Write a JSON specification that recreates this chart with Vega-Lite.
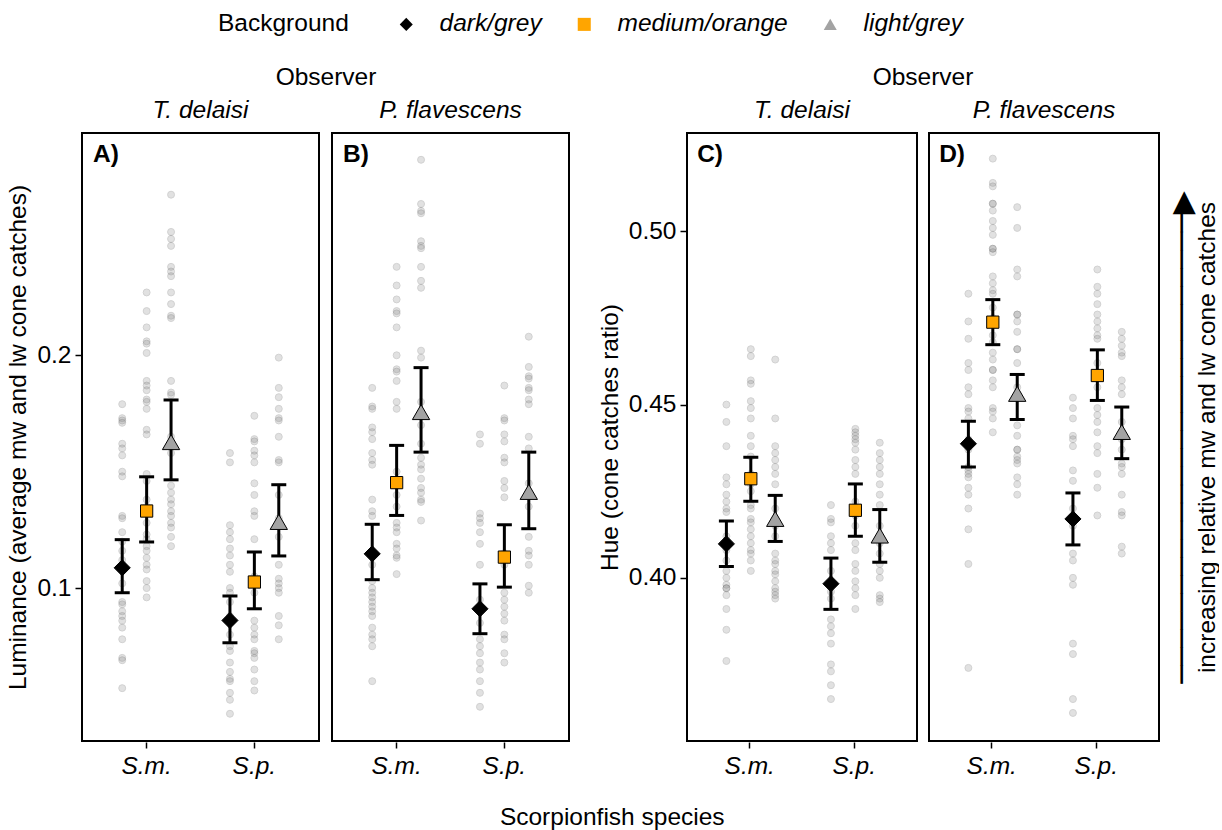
{
"$schema":"https://vega.github.io/schema/vega-lite/v6.json",
"padding":{"left":5,"right":0,"top":12,"bottom":8},
"title":{"text":"Scorpionfish species","orient":"bottom","anchor":"middle","fontSize":24.5,"fontWeight":"normal","color":"black","offset":28},
"datasets":{
"lum":[
{"o":"T","s":"m","lab":"A)"},{"o":"P","s":"m","lab":"B)"},
{"o":"T","s":"m","b":"d","mn":0.1087,"lo":0.098,"hi":0.1208},
{"o":"T","s":"m","b":"m","mn":0.1331,"lo":0.1198,"hi":0.1478},
{"o":"T","s":"m","b":"l","mn":0.1627,"lo":0.1465,"hi":0.1808},
{"o":"T","s":"p","b":"d","mn":0.0861,"lo":0.0765,"hi":0.0966},
{"o":"T","s":"p","b":"m","mn":0.1026,"lo":0.0911,"hi":0.1155},
{"o":"T","s":"p","b":"l","mn":0.1284,"lo":0.1138,"hi":0.1444},
{"o":"P","s":"m","b":"d","mn":0.1147,"lo":0.1036,"hi":0.1274},
{"o":"P","s":"m","b":"m","mn":0.1453,"lo":0.1312,"hi":0.1613},
{"o":"P","s":"m","b":"l","mn":0.1756,"lo":0.1584,"hi":0.1947},
{"o":"P","s":"p","b":"d","mn":0.0911,"lo":0.0804,"hi":0.1018},
{"o":"P","s":"p","b":"m","mn":0.1133,"lo":0.1004,"hi":0.1272},
{"o":"P","s":"p","b":"l","mn":0.1413,"lo":0.1255,"hi":0.1584},
{"o":"T","s":"m","b":"d","v":0.179},{"o":"T","s":"m","b":"d","v":0.173},{"o":"T","s":"m","b":"d","v":0.172},{"o":"T","s":"m","b":"d","v":0.171},{"o":"T","s":"m","b":"d","v":0.162},{"o":"T","s":"m","b":"d","v":0.160},{"o":"T","s":"m","b":"d","v":0.157},{"o":"T","s":"m","b":"d","v":0.150},{"o":"T","s":"m","b":"d","v":0.148},{"o":"T","s":"m","b":"d","v":0.131},{"o":"T","s":"m","b":"d","v":0.130},{"o":"T","s":"m","b":"d","v":0.124},{"o":"T","s":"m","b":"d","v":0.120},{"o":"T","s":"m","b":"d","v":0.116},{"o":"T","s":"m","b":"d","v":0.112},{"o":"T","s":"m","b":"d","v":0.108},{"o":"T","s":"m","b":"d","v":0.102},{"o":"T","s":"m","b":"d","v":0.094},{"o":"T","s":"m","b":"d","v":0.093},{"o":"T","s":"m","b":"d","v":0.090},{"o":"T","s":"m","b":"d","v":0.088},{"o":"T","s":"m","b":"d","v":0.086},{"o":"T","s":"m","b":"d","v":0.083},{"o":"T","s":"m","b":"d","v":0.078},{"o":"T","s":"m","b":"d","v":0.070},{"o":"T","s":"m","b":"d","v":0.069},{"o":"T","s":"m","b":"d","v":0.057},
{"o":"T","s":"m","b":"m","v":0.227},{"o":"T","s":"m","b":"m","v":0.219},{"o":"T","s":"m","b":"m","v":0.212},{"o":"T","s":"m","b":"m","v":0.206},{"o":"T","s":"m","b":"m","v":0.205},{"o":"T","s":"m","b":"m","v":0.201},{"o":"T","s":"m","b":"m","v":0.189},{"o":"T","s":"m","b":"m","v":0.187},{"o":"T","s":"m","b":"m","v":0.185},{"o":"T","s":"m","b":"m","v":0.181},{"o":"T","s":"m","b":"m","v":0.180},{"o":"T","s":"m","b":"m","v":0.177},{"o":"T","s":"m","b":"m","v":0.168},{"o":"T","s":"m","b":"m","v":0.166},{"o":"T","s":"m","b":"m","v":0.149},{"o":"T","s":"m","b":"m","v":0.146},{"o":"T","s":"m","b":"m","v":0.138},{"o":"T","s":"m","b":"m","v":0.135},{"o":"T","s":"m","b":"m","v":0.128},{"o":"T","s":"m","b":"m","v":0.123},{"o":"T","s":"m","b":"m","v":0.121},{"o":"T","s":"m","b":"m","v":0.118},{"o":"T","s":"m","b":"m","v":0.116},{"o":"T","s":"m","b":"m","v":0.113},{"o":"T","s":"m","b":"m","v":0.110},{"o":"T","s":"m","b":"m","v":0.108},{"o":"T","s":"m","b":"m","v":0.103},{"o":"T","s":"m","b":"m","v":0.100},{"o":"T","s":"m","b":"m","v":0.096},
{"o":"T","s":"m","b":"l","v":0.269},{"o":"T","s":"m","b":"l","v":0.253},{"o":"T","s":"m","b":"l","v":0.250},{"o":"T","s":"m","b":"l","v":0.247},{"o":"T","s":"m","b":"l","v":0.238},{"o":"T","s":"m","b":"l","v":0.236},{"o":"T","s":"m","b":"l","v":0.234},{"o":"T","s":"m","b":"l","v":0.227},{"o":"T","s":"m","b":"l","v":0.222},{"o":"T","s":"m","b":"l","v":0.217},{"o":"T","s":"m","b":"l","v":0.216},{"o":"T","s":"m","b":"l","v":0.189},{"o":"T","s":"m","b":"l","v":0.184},{"o":"T","s":"m","b":"l","v":0.183},{"o":"T","s":"m","b":"l","v":0.165},{"o":"T","s":"m","b":"l","v":0.158},{"o":"T","s":"m","b":"l","v":0.144},{"o":"T","s":"m","b":"l","v":0.141},{"o":"T","s":"m","b":"l","v":0.138},{"o":"T","s":"m","b":"l","v":0.136},{"o":"T","s":"m","b":"l","v":0.133},{"o":"T","s":"m","b":"l","v":0.131},{"o":"T","s":"m","b":"l","v":0.128},{"o":"T","s":"m","b":"l","v":0.126},{"o":"T","s":"m","b":"l","v":0.122},{"o":"T","s":"m","b":"l","v":0.118},
{"o":"T","s":"p","b":"d","v":0.158},{"o":"T","s":"p","b":"d","v":0.154},{"o":"T","s":"p","b":"d","v":0.127},{"o":"T","s":"p","b":"d","v":0.124},{"o":"T","s":"p","b":"d","v":0.121},{"o":"T","s":"p","b":"d","v":0.117},{"o":"T","s":"p","b":"d","v":0.114},{"o":"T","s":"p","b":"d","v":0.110},{"o":"T","s":"p","b":"d","v":0.107},{"o":"T","s":"p","b":"d","v":0.100},{"o":"T","s":"p","b":"d","v":0.098},{"o":"T","s":"p","b":"d","v":0.094},{"o":"T","s":"p","b":"d","v":0.088},{"o":"T","s":"p","b":"d","v":0.085},{"o":"T","s":"p","b":"d","v":0.080},{"o":"T","s":"p","b":"d","v":0.075},{"o":"T","s":"p","b":"d","v":0.073},{"o":"T","s":"p","b":"d","v":0.068},{"o":"T","s":"p","b":"d","v":0.064},{"o":"T","s":"p","b":"d","v":0.061},{"o":"T","s":"p","b":"d","v":0.060},{"o":"T","s":"p","b":"d","v":0.055},{"o":"T","s":"p","b":"d","v":0.052},{"o":"T","s":"p","b":"d","v":0.046},
{"o":"T","s":"p","b":"m","v":0.174},{"o":"T","s":"p","b":"m","v":0.164},{"o":"T","s":"p","b":"m","v":0.163},{"o":"T","s":"p","b":"m","v":0.159},{"o":"T","s":"p","b":"m","v":0.157},{"o":"T","s":"p","b":"m","v":0.154},{"o":"T","s":"p","b":"m","v":0.145},{"o":"T","s":"p","b":"m","v":0.140},{"o":"T","s":"p","b":"m","v":0.133},{"o":"T","s":"p","b":"m","v":0.131},{"o":"T","s":"p","b":"m","v":0.121},{"o":"T","s":"p","b":"m","v":0.105},{"o":"T","s":"p","b":"m","v":0.098},{"o":"T","s":"p","b":"m","v":0.086},{"o":"T","s":"p","b":"m","v":0.083},{"o":"T","s":"p","b":"m","v":0.080},{"o":"T","s":"p","b":"m","v":0.078},{"o":"T","s":"p","b":"m","v":0.073},{"o":"T","s":"p","b":"m","v":0.072},{"o":"T","s":"p","b":"m","v":0.070},{"o":"T","s":"p","b":"m","v":0.065},{"o":"T","s":"p","b":"m","v":0.060},{"o":"T","s":"p","b":"m","v":0.056},
{"o":"T","s":"p","b":"l","v":0.199},{"o":"T","s":"p","b":"l","v":0.186},{"o":"T","s":"p","b":"l","v":0.182},{"o":"T","s":"p","b":"l","v":0.177},{"o":"T","s":"p","b":"l","v":0.173},{"o":"T","s":"p","b":"l","v":0.172},{"o":"T","s":"p","b":"l","v":0.165},{"o":"T","s":"p","b":"l","v":0.155},{"o":"T","s":"p","b":"l","v":0.154},{"o":"T","s":"p","b":"l","v":0.140},{"o":"T","s":"p","b":"l","v":0.130},{"o":"T","s":"p","b":"l","v":0.122},{"o":"T","s":"p","b":"l","v":0.110},{"o":"T","s":"p","b":"l","v":0.104},{"o":"T","s":"p","b":"l","v":0.102},{"o":"T","s":"p","b":"l","v":0.100},{"o":"T","s":"p","b":"l","v":0.098},{"o":"T","s":"p","b":"l","v":0.088},{"o":"T","s":"p","b":"l","v":0.084},{"o":"T","s":"p","b":"l","v":0.078},
{"o":"P","s":"m","b":"d","v":0.186},{"o":"P","s":"m","b":"d","v":0.178},{"o":"P","s":"m","b":"d","v":0.177},{"o":"P","s":"m","b":"d","v":0.169},{"o":"P","s":"m","b":"d","v":0.167},{"o":"P","s":"m","b":"d","v":0.164},{"o":"P","s":"m","b":"d","v":0.158},{"o":"P","s":"m","b":"d","v":0.155},{"o":"P","s":"m","b":"d","v":0.153},{"o":"P","s":"m","b":"d","v":0.138},{"o":"P","s":"m","b":"d","v":0.133},{"o":"P","s":"m","b":"d","v":0.131},{"o":"P","s":"m","b":"d","v":0.115},{"o":"P","s":"m","b":"d","v":0.110},{"o":"P","s":"m","b":"d","v":0.103},{"o":"P","s":"m","b":"d","v":0.100},{"o":"P","s":"m","b":"d","v":0.098},{"o":"P","s":"m","b":"d","v":0.096},{"o":"P","s":"m","b":"d","v":0.094},{"o":"P","s":"m","b":"d","v":0.092},{"o":"P","s":"m","b":"d","v":0.090},{"o":"P","s":"m","b":"d","v":0.088},{"o":"P","s":"m","b":"d","v":0.083},{"o":"P","s":"m","b":"d","v":0.080},{"o":"P","s":"m","b":"d","v":0.078},{"o":"P","s":"m","b":"d","v":0.075},{"o":"P","s":"m","b":"d","v":0.060},
{"o":"P","s":"m","b":"m","v":0.238},{"o":"P","s":"m","b":"m","v":0.230},{"o":"P","s":"m","b":"m","v":0.224},{"o":"P","s":"m","b":"m","v":0.219},{"o":"P","s":"m","b":"m","v":0.218},{"o":"P","s":"m","b":"m","v":0.212},{"o":"P","s":"m","b":"m","v":0.200},{"o":"P","s":"m","b":"m","v":0.194},{"o":"P","s":"m","b":"m","v":0.193},{"o":"P","s":"m","b":"m","v":0.189},{"o":"P","s":"m","b":"m","v":0.180},{"o":"P","s":"m","b":"m","v":0.177},{"o":"P","s":"m","b":"m","v":0.150},{"o":"P","s":"m","b":"m","v":0.140},{"o":"P","s":"m","b":"m","v":0.135},{"o":"P","s":"m","b":"m","v":0.128},{"o":"P","s":"m","b":"m","v":0.126},{"o":"P","s":"m","b":"m","v":0.124},{"o":"P","s":"m","b":"m","v":0.119},{"o":"P","s":"m","b":"m","v":0.117},{"o":"P","s":"m","b":"m","v":0.114},{"o":"P","s":"m","b":"m","v":0.113},{"o":"P","s":"m","b":"m","v":0.106},
{"o":"P","s":"m","b":"l","v":0.284},{"o":"P","s":"m","b":"l","v":0.265},{"o":"P","s":"m","b":"l","v":0.262},{"o":"P","s":"m","b":"l","v":0.261},{"o":"P","s":"m","b":"l","v":0.249},{"o":"P","s":"m","b":"l","v":0.247},{"o":"P","s":"m","b":"l","v":0.246},{"o":"P","s":"m","b":"l","v":0.238},{"o":"P","s":"m","b":"l","v":0.232},{"o":"P","s":"m","b":"l","v":0.229},{"o":"P","s":"m","b":"l","v":0.202},{"o":"P","s":"m","b":"l","v":0.199},{"o":"P","s":"m","b":"l","v":0.180},{"o":"P","s":"m","b":"l","v":0.170},{"o":"P","s":"m","b":"l","v":0.162},{"o":"P","s":"m","b":"l","v":0.156},{"o":"P","s":"m","b":"l","v":0.153},{"o":"P","s":"m","b":"l","v":0.151},{"o":"P","s":"m","b":"l","v":0.147},{"o":"P","s":"m","b":"l","v":0.143},{"o":"P","s":"m","b":"l","v":0.141},{"o":"P","s":"m","b":"l","v":0.138},{"o":"P","s":"m","b":"l","v":0.137},{"o":"P","s":"m","b":"l","v":0.129},
{"o":"P","s":"p","b":"d","v":0.166},{"o":"P","s":"p","b":"d","v":0.162},{"o":"P","s":"p","b":"d","v":0.132},{"o":"P","s":"p","b":"d","v":0.130},{"o":"P","s":"p","b":"d","v":0.128},{"o":"P","s":"p","b":"d","v":0.124},{"o":"P","s":"p","b":"d","v":0.119},{"o":"P","s":"p","b":"d","v":0.110},{"o":"P","s":"p","b":"d","v":0.095},{"o":"P","s":"p","b":"d","v":0.090},{"o":"P","s":"p","b":"d","v":0.085},{"o":"P","s":"p","b":"d","v":0.078},{"o":"P","s":"p","b":"d","v":0.075},{"o":"P","s":"p","b":"d","v":0.072},{"o":"P","s":"p","b":"d","v":0.068},{"o":"P","s":"p","b":"d","v":0.065},{"o":"P","s":"p","b":"d","v":0.060},{"o":"P","s":"p","b":"d","v":0.055},{"o":"P","s":"p","b":"d","v":0.049},
{"o":"P","s":"p","b":"m","v":0.187},{"o":"P","s":"p","b":"m","v":0.173},{"o":"P","s":"p","b":"m","v":0.172},{"o":"P","s":"p","b":"m","v":0.166},{"o":"P","s":"p","b":"m","v":0.163},{"o":"P","s":"p","b":"m","v":0.156},{"o":"P","s":"p","b":"m","v":0.154},{"o":"P","s":"p","b":"m","v":0.146},{"o":"P","s":"p","b":"m","v":0.143},{"o":"P","s":"p","b":"m","v":0.139},{"o":"P","s":"p","b":"m","v":0.115},{"o":"P","s":"p","b":"m","v":0.110},{"o":"P","s":"p","b":"m","v":0.098},{"o":"P","s":"p","b":"m","v":0.095},{"o":"P","s":"p","b":"m","v":0.092},{"o":"P","s":"p","b":"m","v":0.089},{"o":"P","s":"p","b":"m","v":0.086},{"o":"P","s":"p","b":"m","v":0.080},{"o":"P","s":"p","b":"m","v":0.078},{"o":"P","s":"p","b":"m","v":0.072},{"o":"P","s":"p","b":"m","v":0.068},
{"o":"P","s":"p","b":"l","v":0.208},{"o":"P","s":"p","b":"l","v":0.195},{"o":"P","s":"p","b":"l","v":0.191},{"o":"P","s":"p","b":"l","v":0.190},{"o":"P","s":"p","b":"l","v":0.186},{"o":"P","s":"p","b":"l","v":0.185},{"o":"P","s":"p","b":"l","v":0.181},{"o":"P","s":"p","b":"l","v":0.179},{"o":"P","s":"p","b":"l","v":0.165},{"o":"P","s":"p","b":"l","v":0.160},{"o":"P","s":"p","b":"l","v":0.145},{"o":"P","s":"p","b":"l","v":0.135},{"o":"P","s":"p","b":"l","v":0.122},{"o":"P","s":"p","b":"l","v":0.116},{"o":"P","s":"p","b":"l","v":0.114},{"o":"P","s":"p","b":"l","v":0.110},{"o":"P","s":"p","b":"l","v":0.101},{"o":"P","s":"p","b":"l","v":0.098}
],
"hue":[
{"o":"T","s":"m","lab":"C)"},{"o":"P","s":"m","lab":"D)"},
{"o":"T","s":"m","b":"d","mn":0.4098,"lo":0.4033,"hi":0.4164},
{"o":"T","s":"m","b":"m","mn":0.4286,"lo":0.4221,"hi":0.4348},
{"o":"T","s":"m","b":"l","mn":0.4170,"lo":0.4105,"hi":0.4238},
{"o":"T","s":"p","b":"d","mn":0.3983,"lo":0.3909,"hi":0.4057},
{"o":"T","s":"p","b":"m","mn":0.4195,"lo":0.4120,"hi":0.4271},
{"o":"T","s":"p","b":"l","mn":0.4122,"lo":0.4045,"hi":0.4197},
{"o":"P","s":"m","b":"d","mn":0.4387,"lo":0.4320,"hi":0.4452},
{"o":"P","s":"m","b":"m","mn":0.4738,"lo":0.4673,"hi":0.4803},
{"o":"P","s":"m","b":"l","mn":0.4531,"lo":0.4457,"hi":0.4587},
{"o":"P","s":"p","b":"d","mn":0.4170,"lo":0.4095,"hi":0.4245},
{"o":"P","s":"p","b":"m","mn":0.4584,"lo":0.4512,"hi":0.4658},
{"o":"P","s":"p","b":"l","mn":0.4421,"lo":0.4344,"hi":0.4493},
{"o":"T","s":"m","b":"d","v":0.450},{"o":"T","s":"m","b":"d","v":0.445},{"o":"T","s":"m","b":"d","v":0.438},{"o":"T","s":"m","b":"d","v":0.429},{"o":"T","s":"m","b":"d","v":0.427},{"o":"T","s":"m","b":"d","v":0.424},{"o":"T","s":"m","b":"d","v":0.422},{"o":"T","s":"m","b":"d","v":0.420},{"o":"T","s":"m","b":"d","v":0.419},{"o":"T","s":"m","b":"d","v":0.412},{"o":"T","s":"m","b":"d","v":0.408},{"o":"T","s":"m","b":"d","v":0.405},{"o":"T","s":"m","b":"d","v":0.402},{"o":"T","s":"m","b":"d","v":0.400},{"o":"T","s":"m","b":"d","v":0.398},{"o":"T","s":"m","b":"d","v":0.397},{"o":"T","s":"m","b":"d","v":0.397},{"o":"T","s":"m","b":"d","v":0.395},{"o":"T","s":"m","b":"d","v":0.391},{"o":"T","s":"m","b":"d","v":0.385},{"o":"T","s":"m","b":"d","v":0.376},
{"o":"T","s":"m","b":"m","v":0.466},{"o":"T","s":"m","b":"m","v":0.464},{"o":"T","s":"m","b":"m","v":0.457},{"o":"T","s":"m","b":"m","v":0.456},{"o":"T","s":"m","b":"m","v":0.451},{"o":"T","s":"m","b":"m","v":0.449},{"o":"T","s":"m","b":"m","v":0.446},{"o":"T","s":"m","b":"m","v":0.441},{"o":"T","s":"m","b":"m","v":0.438},{"o":"T","s":"m","b":"m","v":0.435},{"o":"T","s":"m","b":"m","v":0.430},{"o":"T","s":"m","b":"m","v":0.427},{"o":"T","s":"m","b":"m","v":0.425},{"o":"T","s":"m","b":"m","v":0.421},{"o":"T","s":"m","b":"m","v":0.420},{"o":"T","s":"m","b":"m","v":0.417},{"o":"T","s":"m","b":"m","v":0.416},{"o":"T","s":"m","b":"m","v":0.414},{"o":"T","s":"m","b":"m","v":0.412},{"o":"T","s":"m","b":"m","v":0.410},{"o":"T","s":"m","b":"m","v":0.408},{"o":"T","s":"m","b":"m","v":0.407},{"o":"T","s":"m","b":"m","v":0.405},{"o":"T","s":"m","b":"m","v":0.402},
{"o":"T","s":"m","b":"l","v":0.463},{"o":"T","s":"m","b":"l","v":0.446},{"o":"T","s":"m","b":"l","v":0.438},{"o":"T","s":"m","b":"l","v":0.436},{"o":"T","s":"m","b":"l","v":0.434},{"o":"T","s":"m","b":"l","v":0.432},{"o":"T","s":"m","b":"l","v":0.430},{"o":"T","s":"m","b":"l","v":0.427},{"o":"T","s":"m","b":"l","v":0.420},{"o":"T","s":"m","b":"l","v":0.415},{"o":"T","s":"m","b":"l","v":0.412},{"o":"T","s":"m","b":"l","v":0.407},{"o":"T","s":"m","b":"l","v":0.405},{"o":"T","s":"m","b":"l","v":0.404},{"o":"T","s":"m","b":"l","v":0.402},{"o":"T","s":"m","b":"l","v":0.401},{"o":"T","s":"m","b":"l","v":0.399},{"o":"T","s":"m","b":"l","v":0.397},{"o":"T","s":"m","b":"l","v":0.396},{"o":"T","s":"m","b":"l","v":0.395},{"o":"T","s":"m","b":"l","v":0.394},
{"o":"T","s":"p","b":"d","v":0.421},{"o":"T","s":"p","b":"d","v":0.417},{"o":"T","s":"p","b":"d","v":0.416},{"o":"T","s":"p","b":"d","v":0.412},{"o":"T","s":"p","b":"d","v":0.410},{"o":"T","s":"p","b":"d","v":0.408},{"o":"T","s":"p","b":"d","v":0.402},{"o":"T","s":"p","b":"d","v":0.396},{"o":"T","s":"p","b":"d","v":0.394},{"o":"T","s":"p","b":"d","v":0.388},{"o":"T","s":"p","b":"d","v":0.386},{"o":"T","s":"p","b":"d","v":0.384},{"o":"T","s":"p","b":"d","v":0.381},{"o":"T","s":"p","b":"d","v":0.375},{"o":"T","s":"p","b":"d","v":0.373},{"o":"T","s":"p","b":"d","v":0.369},{"o":"T","s":"p","b":"d","v":0.365},
{"o":"T","s":"p","b":"m","v":0.443},{"o":"T","s":"p","b":"m","v":0.442},{"o":"T","s":"p","b":"m","v":0.441},{"o":"T","s":"p","b":"m","v":0.440},{"o":"T","s":"p","b":"m","v":0.439},{"o":"T","s":"p","b":"m","v":0.437},{"o":"T","s":"p","b":"m","v":0.434},{"o":"T","s":"p","b":"m","v":0.432},{"o":"T","s":"p","b":"m","v":0.430},{"o":"T","s":"p","b":"m","v":0.422},{"o":"T","s":"p","b":"m","v":0.418},{"o":"T","s":"p","b":"m","v":0.415},{"o":"T","s":"p","b":"m","v":0.410},{"o":"T","s":"p","b":"m","v":0.408},{"o":"T","s":"p","b":"m","v":0.404},{"o":"T","s":"p","b":"m","v":0.402},{"o":"T","s":"p","b":"m","v":0.399},{"o":"T","s":"p","b":"m","v":0.397},{"o":"T","s":"p","b":"m","v":0.395},{"o":"T","s":"p","b":"m","v":0.391},
{"o":"T","s":"p","b":"l","v":0.439},{"o":"T","s":"p","b":"l","v":0.436},{"o":"T","s":"p","b":"l","v":0.434},{"o":"T","s":"p","b":"l","v":0.432},{"o":"T","s":"p","b":"l","v":0.430},{"o":"T","s":"p","b":"l","v":0.427},{"o":"T","s":"p","b":"l","v":0.424},{"o":"T","s":"p","b":"l","v":0.421},{"o":"T","s":"p","b":"l","v":0.415},{"o":"T","s":"p","b":"l","v":0.410},{"o":"T","s":"p","b":"l","v":0.407},{"o":"T","s":"p","b":"l","v":0.404},{"o":"T","s":"p","b":"l","v":0.402},{"o":"T","s":"p","b":"l","v":0.400},{"o":"T","s":"p","b":"l","v":0.395},{"o":"T","s":"p","b":"l","v":0.394},{"o":"T","s":"p","b":"l","v":0.393},
{"o":"P","s":"m","b":"d","v":0.482},{"o":"P","s":"m","b":"d","v":0.474},{"o":"P","s":"m","b":"d","v":0.469},{"o":"P","s":"m","b":"d","v":0.462},{"o":"P","s":"m","b":"d","v":0.460},{"o":"P","s":"m","b":"d","v":0.455},{"o":"P","s":"m","b":"d","v":0.453},{"o":"P","s":"m","b":"d","v":0.449},{"o":"P","s":"m","b":"d","v":0.448},{"o":"P","s":"m","b":"d","v":0.446},{"o":"P","s":"m","b":"d","v":0.440},{"o":"P","s":"m","b":"d","v":0.437},{"o":"P","s":"m","b":"d","v":0.432},{"o":"P","s":"m","b":"d","v":0.431},{"o":"P","s":"m","b":"d","v":0.430},{"o":"P","s":"m","b":"d","v":0.429},{"o":"P","s":"m","b":"d","v":0.426},{"o":"P","s":"m","b":"d","v":0.424},{"o":"P","s":"m","b":"d","v":0.420},{"o":"P","s":"m","b":"d","v":0.414},{"o":"P","s":"m","b":"d","v":0.404},{"o":"P","s":"m","b":"d","v":0.374},
{"o":"P","s":"m","b":"m","v":0.521},{"o":"P","s":"m","b":"m","v":0.514},{"o":"P","s":"m","b":"m","v":0.513},{"o":"P","s":"m","b":"m","v":0.508},{"o":"P","s":"m","b":"m","v":0.508},{"o":"P","s":"m","b":"m","v":0.506},{"o":"P","s":"m","b":"m","v":0.503},{"o":"P","s":"m","b":"m","v":0.501},{"o":"P","s":"m","b":"m","v":0.499},{"o":"P","s":"m","b":"m","v":0.495},{"o":"P","s":"m","b":"m","v":0.495},{"o":"P","s":"m","b":"m","v":0.494},{"o":"P","s":"m","b":"m","v":0.487},{"o":"P","s":"m","b":"m","v":0.485},{"o":"P","s":"m","b":"m","v":0.483},{"o":"P","s":"m","b":"m","v":0.482},{"o":"P","s":"m","b":"m","v":0.478},{"o":"P","s":"m","b":"m","v":0.475},{"o":"P","s":"m","b":"m","v":0.470},{"o":"P","s":"m","b":"m","v":0.468},{"o":"P","s":"m","b":"m","v":0.465},{"o":"P","s":"m","b":"m","v":0.463},{"o":"P","s":"m","b":"m","v":0.460},{"o":"P","s":"m","b":"m","v":0.460},{"o":"P","s":"m","b":"m","v":0.457},{"o":"P","s":"m","b":"m","v":0.455},{"o":"P","s":"m","b":"m","v":0.449},{"o":"P","s":"m","b":"m","v":0.448},{"o":"P","s":"m","b":"m","v":0.446},{"o":"P","s":"m","b":"m","v":0.442},
{"o":"P","s":"m","b":"l","v":0.507},{"o":"P","s":"m","b":"l","v":0.501},{"o":"P","s":"m","b":"l","v":0.489},{"o":"P","s":"m","b":"l","v":0.487},{"o":"P","s":"m","b":"l","v":0.476},{"o":"P","s":"m","b":"l","v":0.476},{"o":"P","s":"m","b":"l","v":0.474},{"o":"P","s":"m","b":"l","v":0.471},{"o":"P","s":"m","b":"l","v":0.466},{"o":"P","s":"m","b":"l","v":0.466},{"o":"P","s":"m","b":"l","v":0.462},{"o":"P","s":"m","b":"l","v":0.455},{"o":"P","s":"m","b":"l","v":0.452},{"o":"P","s":"m","b":"l","v":0.444},{"o":"P","s":"m","b":"l","v":0.441},{"o":"P","s":"m","b":"l","v":0.437},{"o":"P","s":"m","b":"l","v":0.437},{"o":"P","s":"m","b":"l","v":0.435},{"o":"P","s":"m","b":"l","v":0.434},{"o":"P","s":"m","b":"l","v":0.433},{"o":"P","s":"m","b":"l","v":0.429},{"o":"P","s":"m","b":"l","v":0.427},{"o":"P","s":"m","b":"l","v":0.424},
{"o":"P","s":"p","b":"d","v":0.452},{"o":"P","s":"p","b":"d","v":0.449},{"o":"P","s":"p","b":"d","v":0.446},{"o":"P","s":"p","b":"d","v":0.441},{"o":"P","s":"p","b":"d","v":0.440},{"o":"P","s":"p","b":"d","v":0.438},{"o":"P","s":"p","b":"d","v":0.431},{"o":"P","s":"p","b":"d","v":0.428},{"o":"P","s":"p","b":"d","v":0.420},{"o":"P","s":"p","b":"d","v":0.415},{"o":"P","s":"p","b":"d","v":0.407},{"o":"P","s":"p","b":"d","v":0.405},{"o":"P","s":"p","b":"d","v":0.400},{"o":"P","s":"p","b":"d","v":0.398},{"o":"P","s":"p","b":"d","v":0.381},{"o":"P","s":"p","b":"d","v":0.378},{"o":"P","s":"p","b":"d","v":0.365},{"o":"P","s":"p","b":"d","v":0.361},
{"o":"P","s":"p","b":"m","v":0.489},{"o":"P","s":"p","b":"m","v":0.484},{"o":"P","s":"p","b":"m","v":0.482},{"o":"P","s":"p","b":"m","v":0.479},{"o":"P","s":"p","b":"m","v":0.476},{"o":"P","s":"p","b":"m","v":0.474},{"o":"P","s":"p","b":"m","v":0.472},{"o":"P","s":"p","b":"m","v":0.470},{"o":"P","s":"p","b":"m","v":0.469},{"o":"P","s":"p","b":"m","v":0.462},{"o":"P","s":"p","b":"m","v":0.458},{"o":"P","s":"p","b":"m","v":0.455},{"o":"P","s":"p","b":"m","v":0.449},{"o":"P","s":"p","b":"m","v":0.447},{"o":"P","s":"p","b":"m","v":0.445},{"o":"P","s":"p","b":"m","v":0.442},{"o":"P","s":"p","b":"m","v":0.438},{"o":"P","s":"p","b":"m","v":0.436},{"o":"P","s":"p","b":"m","v":0.430},{"o":"P","s":"p","b":"m","v":0.426},{"o":"P","s":"p","b":"m","v":0.418},
{"o":"P","s":"p","b":"l","v":0.471},{"o":"P","s":"p","b":"l","v":0.469},{"o":"P","s":"p","b":"l","v":0.467},{"o":"P","s":"p","b":"l","v":0.465},{"o":"P","s":"p","b":"l","v":0.464},{"o":"P","s":"p","b":"l","v":0.457},{"o":"P","s":"p","b":"l","v":0.455},{"o":"P","s":"p","b":"l","v":0.453},{"o":"P","s":"p","b":"l","v":0.445},{"o":"P","s":"p","b":"l","v":0.440},{"o":"P","s":"p","b":"l","v":0.437},{"o":"P","s":"p","b":"l","v":0.433},{"o":"P","s":"p","b":"l","v":0.432},{"o":"P","s":"p","b":"l","v":0.430},{"o":"P","s":"p","b":"l","v":0.424},{"o":"P","s":"p","b":"l","v":0.419},{"o":"P","s":"p","b":"l","v":0.418},{"o":"P","s":"p","b":"l","v":0.409},{"o":"P","s":"p","b":"l","v":0.407}
]
},
"spacing":27,
"hconcat":[
{
"data":{"name":"lum"},
"spacing":11,
"facet":{"column":{"field":"o","type":"nominal","sort":["T","P"],"title":"Observer","header":{"labelExpr":"datum.value == 'T' ? 'T. delaisi' : 'P. flavescens'"}}},
"spec":{
"width":237,"height":608,
"resolve":{"axis":{"y":"independent"}},
"encoding":{"x":{"field":"s","type":"nominal","sort":["m","p"],"scale":{"paddingInner":0.32,"paddingOuter":0.26},"axis":{"title":null,"labelAngle":0,"labelExpr":"datum.value == 'm' ? 'S.m.' : 'S.p.'"}}},
"layer":[
{"transform":[{"filter":"isValid(datum.v)"}],
"mark":{"type":"circle","size":48,"color":"#7a7a7a","opacity":0.22,"stroke":"#333333","strokeWidth":1},
"encoding":{"xOffset":{"field":"b","type":"nominal","scale":{"domain":["d","m","l"],"paddingInner":0,"paddingOuter":0}},
"y":{"field":"v","type":"quantitative","scale":{"domain":[0.0343,0.2955],"nice":false,"zero":false},"axis":{"title":"Luminance (average mw and lw cone catches)","values":[0.1,0.2],"format":".1f"}}}},
{"transform":[{"filter":"isValid(datum.mn)"}],
"mark":{"type":"rule","color":"black","strokeWidth":3},
"encoding":{"xOffset":{"field":"b","type":"nominal"},"y":{"field":"lo","type":"quantitative","axis":null},"y2":{"field":"hi"}}},
{"transform":[{"filter":"isValid(datum.mn)"}],
"mark":{"type":"tick","color":"black","thickness":3,"size":15,"opacity":1,"orient":"horizontal"},
"encoding":{"xOffset":{"field":"b","type":"nominal"},"y":{"field":"lo","type":"quantitative","axis":null}}},
{"transform":[{"filter":"isValid(datum.mn)"}],
"mark":{"type":"tick","color":"black","thickness":3,"size":15,"opacity":1,"orient":"horizontal"},
"encoding":{"xOffset":{"field":"b","type":"nominal"},"y":{"field":"hi","type":"quantitative","axis":null}}},
{"transform":[{"filter":"isValid(datum.mn)"}],
"mark":{"type":"point","filled":true,"stroke":"black","strokeWidth":1,"opacity":1},
"encoding":{"xOffset":{"field":"b","type":"nominal"},"y":{"field":"mn","type":"quantitative","axis":null},
"fill":{"field":"b","type":"nominal","scale":{"domain":["d","m","l"],"range":["#000000","#FFA500","#A3A3A3"]},"legend":{"title":"Background","orient":"none","legendX":136,"legendY":-121,"direction":"horizontal","titleOrient":"left","labelExpr":"datum.value == 'd' ? 'dark/grey' : datum.value == 'm' ? 'medium/orange' : 'light/grey'","encode":{"symbols":{"update":{"stroke":{"value":"black"},"strokeWidth":{"value":1}}}}}},
"shape":{"field":"b","type":"nominal","scale":{"domain":["d","m","l"],"range":["diamond","square","triangle-up"]}},
"size":{"field":"b","type":"nominal","scale":{"type":"ordinal","domain":["l","m","d"],"range":[300,150,260]},"legend":null}}},
{"transform":[{"filter":"isValid(datum.lab)"}],
"mark":{"type":"text","fontSize":24.5,"fontWeight":"bold","align":"left","baseline":"middle","dx":-17,"color":"black"},
"encoding":{"x":{"field":"s","type":"nominal","bandPosition":0,"axis":{"title":null,"labelAngle":0,"labelExpr":"datum.value == 'm' ? 'S.m.' : 'S.p.'"}},"y":{"datum":0.286,"type":"quantitative","axis":null},"text":{"field":"lab"}}}
]
}
},
{
"data":{"name":"hue"},
"spacing":10,
"facet":{"column":{"field":"o","type":"nominal","sort":["T","P"],"title":"Observer","header":{"labelExpr":"datum.value == 'T' ? 'T. delaisi' : 'P. flavescens'"}}},
"spec":{
"width":230,"height":608,
"resolve":{"axis":{"y":"independent"}},
"encoding":{"x":{"field":"s","type":"nominal","sort":["m","p"],"scale":{"paddingInner":0.32,"paddingOuter":0.26},"axis":{"title":null,"labelAngle":0,"labelExpr":"datum.value == 'm' ? 'S.m.' : 'S.p.'"}}},
"layer":[
{"transform":[{"filter":"isValid(datum.v)"}],
"mark":{"type":"circle","size":48,"color":"#7a7a7a","opacity":0.22,"stroke":"#333333","strokeWidth":1},
"encoding":{"xOffset":{"field":"b","type":"nominal","scale":{"domain":["d","m","l"],"paddingInner":0,"paddingOuter":0}},
"y":{"field":"v","type":"quantitative","scale":{"domain":[0.3529,0.5284],"nice":false,"zero":false},"axis":{"title":"Hue (cone catches ratio)","values":[0.40,0.45,0.50],"format":".2f"}}}},
{"transform":[{"filter":"isValid(datum.mn)"}],
"mark":{"type":"rule","color":"black","strokeWidth":3},
"encoding":{"xOffset":{"field":"b","type":"nominal"},"y":{"field":"lo","type":"quantitative","axis":{"orient":"right","title":"──────────────────────────▶","labels":false,"ticks":false,"domain":false,"grid":false,"titleAngle":270,"titleFont":"DejaVu Sans","titleFontSize":30,"titlePadding":22,"titleBaseline":"middle"}},"y2":{"field":"hi"}}},
{"transform":[{"filter":"isValid(datum.mn)"}],
"mark":{"type":"tick","color":"black","thickness":3,"size":15,"opacity":1,"orient":"horizontal"},
"encoding":{"xOffset":{"field":"b","type":"nominal"},"y":{"field":"lo","type":"quantitative","axis":{"orient":"right","title":"increasing relative mw and lw cone catches","labels":false,"ticks":false,"domain":false,"grid":false,"titleAngle":270,"titlePadding":47,"titleBaseline":"middle"}}}},
{"transform":[{"filter":"isValid(datum.mn)"}],
"mark":{"type":"tick","color":"black","thickness":3,"size":15,"opacity":1,"orient":"horizontal"},
"encoding":{"xOffset":{"field":"b","type":"nominal"},"y":{"field":"hi","type":"quantitative","axis":null}}},
{"transform":[{"filter":"isValid(datum.mn)"}],
"mark":{"type":"point","filled":true,"stroke":"black","strokeWidth":1,"opacity":1},
"encoding":{"xOffset":{"field":"b","type":"nominal"},"y":{"field":"mn","type":"quantitative","axis":null},
"fill":{"field":"b","type":"nominal","scale":{"domain":["d","m","l"],"range":["#000000","#FFA500","#A3A3A3"]},"legend":{"title":"Background","orient":"none","legendX":136,"legendY":-121,"direction":"horizontal","titleOrient":"left","labelExpr":"datum.value == 'd' ? 'dark/grey' : datum.value == 'm' ? 'medium/orange' : 'light/grey'","encode":{"symbols":{"update":{"stroke":{"value":"black"},"strokeWidth":{"value":1}}}}}},
"shape":{"field":"b","type":"nominal","scale":{"domain":["d","m","l"],"range":["diamond","square","triangle-up"]}},
"size":{"field":"b","type":"nominal","scale":{"type":"ordinal","domain":["l","m","d"],"range":[300,150,260]},"legend":null}}},
{"transform":[{"filter":"isValid(datum.lab)"}],
"mark":{"type":"text","fontSize":24.5,"fontWeight":"bold","align":"left","baseline":"middle","dx":-17,"color":"black"},
"encoding":{"x":{"field":"s","type":"nominal","bandPosition":0,"axis":{"title":null,"labelAngle":0,"labelExpr":"datum.value == 'm' ? 'S.m.' : 'S.p.'"}},"y":{"datum":0.522,"type":"quantitative","axis":null},"text":{"field":"lab"}}}
]
}
}
],
"config":{
"font":"Liberation Sans",
"view":{"stroke":"black","strokeWidth":2},
"axis":{"labelFontSize":24.5,"titleFontSize":24.5,"labelColor":"black","titleColor":"black","tickColor":"black","tickSize":6,"tickWidth":1.5,"domain":false,"grid":false,"titleFontWeight":"normal","labelPadding":4,"titlePadding":6},
"axisX":{"labelFontStyle":"italic","labelPadding":6},
"header":{"titleFontSize":24.5,"titleFontWeight":"normal","labelFontSize":24.5,"labelFontStyle":"italic","titlePadding":-3,"labelPadding":9,"titleColor":"black","labelColor":"black"},
"legend":{"titleFontSize":24.5,"titleFontWeight":"normal","labelFontSize":24.5,"labelFontStyle":"italic","titleColor":"black","labelColor":"black","labelLimit":0,"symbolSize":170,"symbolStrokeColor":"black","symbolStrokeWidth":1,"columnPadding":30,"labelOffset":21,"titlePadding":45}
}
}
